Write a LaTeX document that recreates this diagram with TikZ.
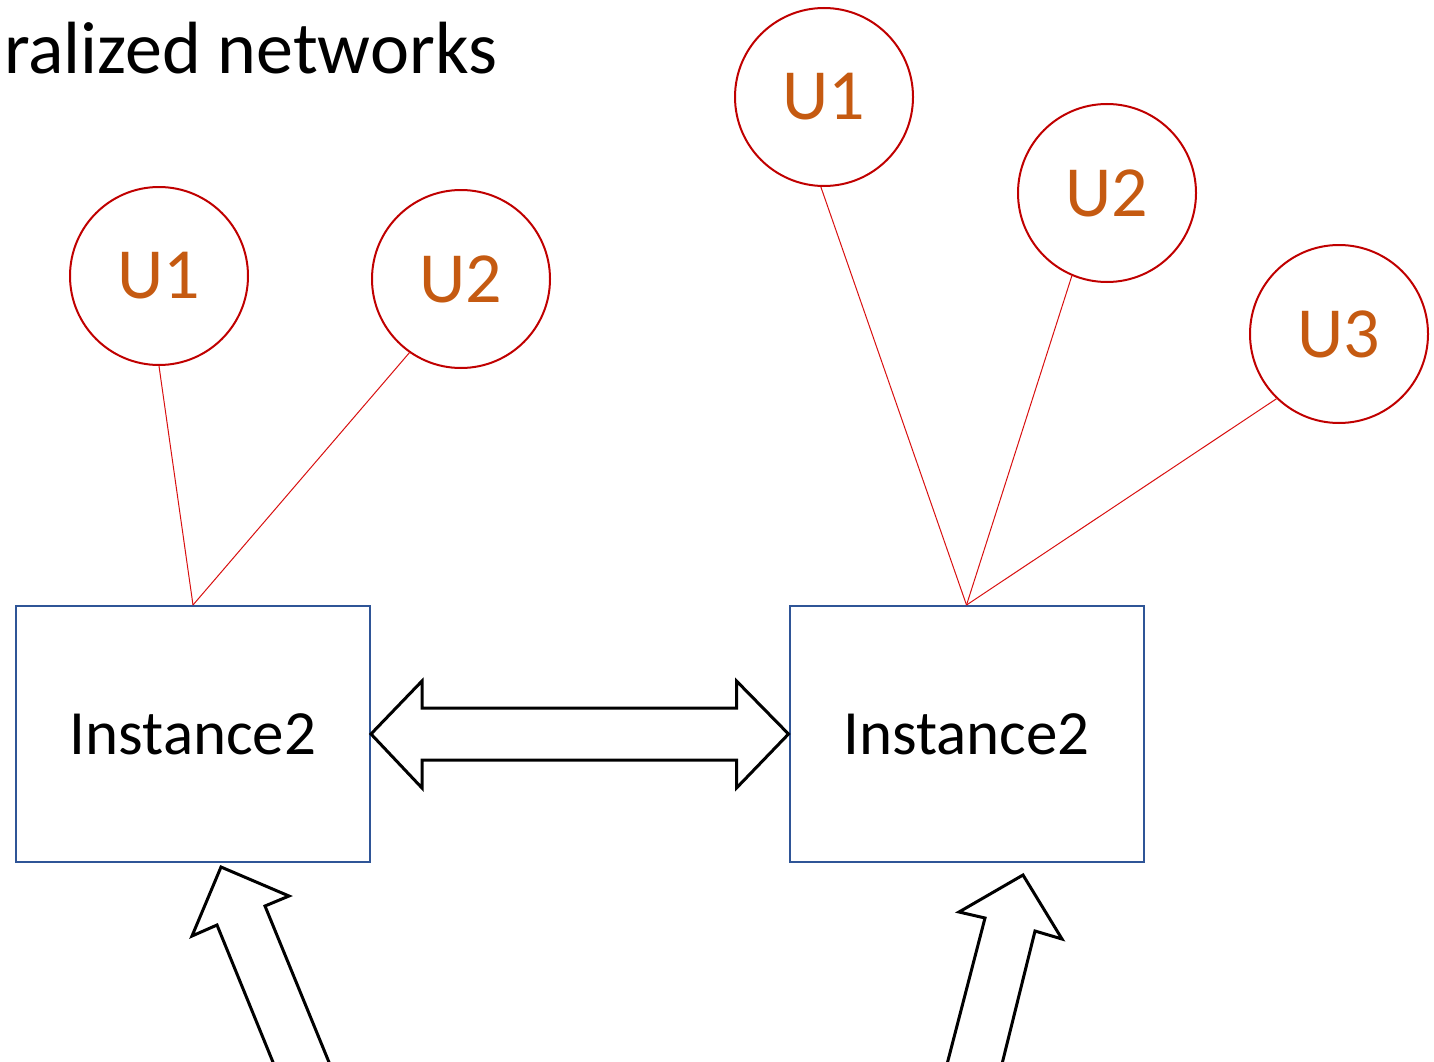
\documentclass[tikz,border=0pt]{standalone}
\usepackage{fontspec}
\setmainfont{Carlito}
\usetikzlibrary{calc}
\definecolor{circred}{HTML}{C00000}
\definecolor{linered}{HTML}{D81010}
\definecolor{utext}{HTML}{C55A11}
\definecolor{boxblue}{HTML}{2F5597}
\tikzset{
  user/.style={circle, draw=circred, line width=2pt, minimum size=178pt, inner sep=0pt,
    text=utext, font=\fontsize{72}{72}\selectfont},
  inst/.style={rectangle, draw=boxblue, line width=2pt, minimum width=354pt, minimum height=256pt,
    inner sep=0pt, font=\fontsize{63}{63}\selectfont},
  link/.style={draw=linered, line width=1pt},
  blockarrow/.style={draw=black, fill=white, line width=3pt, line join=miter}
}
\begin{document}
\begin{tikzpicture}[x=1pt,y=-1pt]
\useasboundingbox (0,0) rectangle (1434,1062);
\clip (0,0) rectangle (1434,1062);
\node[anchor=base west, font=\fontsize{74}{74}\selectfont, inner sep=0pt] (title) at (4,74) {ralized networks};
% left group
\node[user] (l1) at (159,276) {U1};
\node[user] (l2) at (461,279) {U2};
\node[inst] (b1) at (193,734) {Instance2};
% right group
\node[user] (r1) at (824,97) {U1};
\node[user] (r2) at (1107,193) {U2};
\node[user] (r3) at (1339,334) {U3};
\node[inst] (b2) at (966.5,734) {Instance2};
% connectors
\draw[link] (l1.south) -- (b1.north);
\draw[link] (l2.235) -- (b1.north);
\draw[link] (r1.268) -- (b2.north);
\draw[link] (r2.247) -- (b2.north);
\draw[link] (r3.226) -- (b2.north);
% double arrow between instances
\draw[blockarrow] (b1.east) -- ++(51,-53) -- ++(0,27) -- ($(b2.west)+(-52,-26)$) -- ++(0,-27)
  -- (b2.west) -- ++(-52,54) -- ++(0,-28) -- ($(b1.east)+(51,26)$) -- ++(0,28) -- cycle;
% incoming arrows from below
\coordinate (tipl) at (221,867);
\coordinate (tipr) at (1023,875);
\draw[blockarrow] (tipl) -- (289,896) -- (265,906) -- (333,1072) -- (277,1072) -- (217,925) -- (192,936) -- cycle;
\draw[blockarrow] (tipr) -- (1062,939) -- (1035,931) -- (1000,1072) -- (945,1072) -- (985,918) -- (959,912) -- cycle;
\end{tikzpicture}
\end{document}
